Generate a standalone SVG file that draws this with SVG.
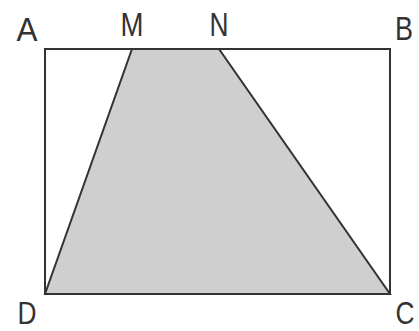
<svg xmlns="http://www.w3.org/2000/svg" width="419" height="331" viewBox="0 0 419 331">
<style>
.lbl{font-family:"Liberation Sans",Arial,sans-serif;font-size:34px;fill:#333;text-anchor:middle}
.low{font-size:31px}
.edge{fill:none;stroke:#333;stroke-width:2}
</style>
<rect width="419" height="331" fill="#fff"/>
<g id="trapezoid"><polygon points="132,49 219,49 390,294 45,294" fill="#cfcfcf" stroke="#333" stroke-width="2" stroke-linejoin="miter"/></g>
<g id="connectors">
<polyline class="edge" points="132,49 45,49 45,294"/>
<polyline class="edge" points="219,49 390,49 390,294"/>
</g>
<g id="A"><text class="lbl" x="27" y="41" textLength="21" lengthAdjust="spacingAndGlyphs">A</text></g>
<g id="M"><text class="lbl" x="132" y="36" textLength="23" lengthAdjust="spacingAndGlyphs">M</text></g>
<g id="N"><text class="lbl" x="219" y="36" textLength="19" lengthAdjust="spacingAndGlyphs">N</text></g>
<g id="B"><text class="lbl" x="404" y="40" textLength="18" lengthAdjust="spacingAndGlyphs">B</text></g>
<g id="D"><text class="lbl low" x="27" y="324" textLength="19" lengthAdjust="spacingAndGlyphs">D</text></g>
<g id="C"><text class="lbl low" x="405" y="324" textLength="19" lengthAdjust="spacingAndGlyphs">C</text></g>
</svg>
